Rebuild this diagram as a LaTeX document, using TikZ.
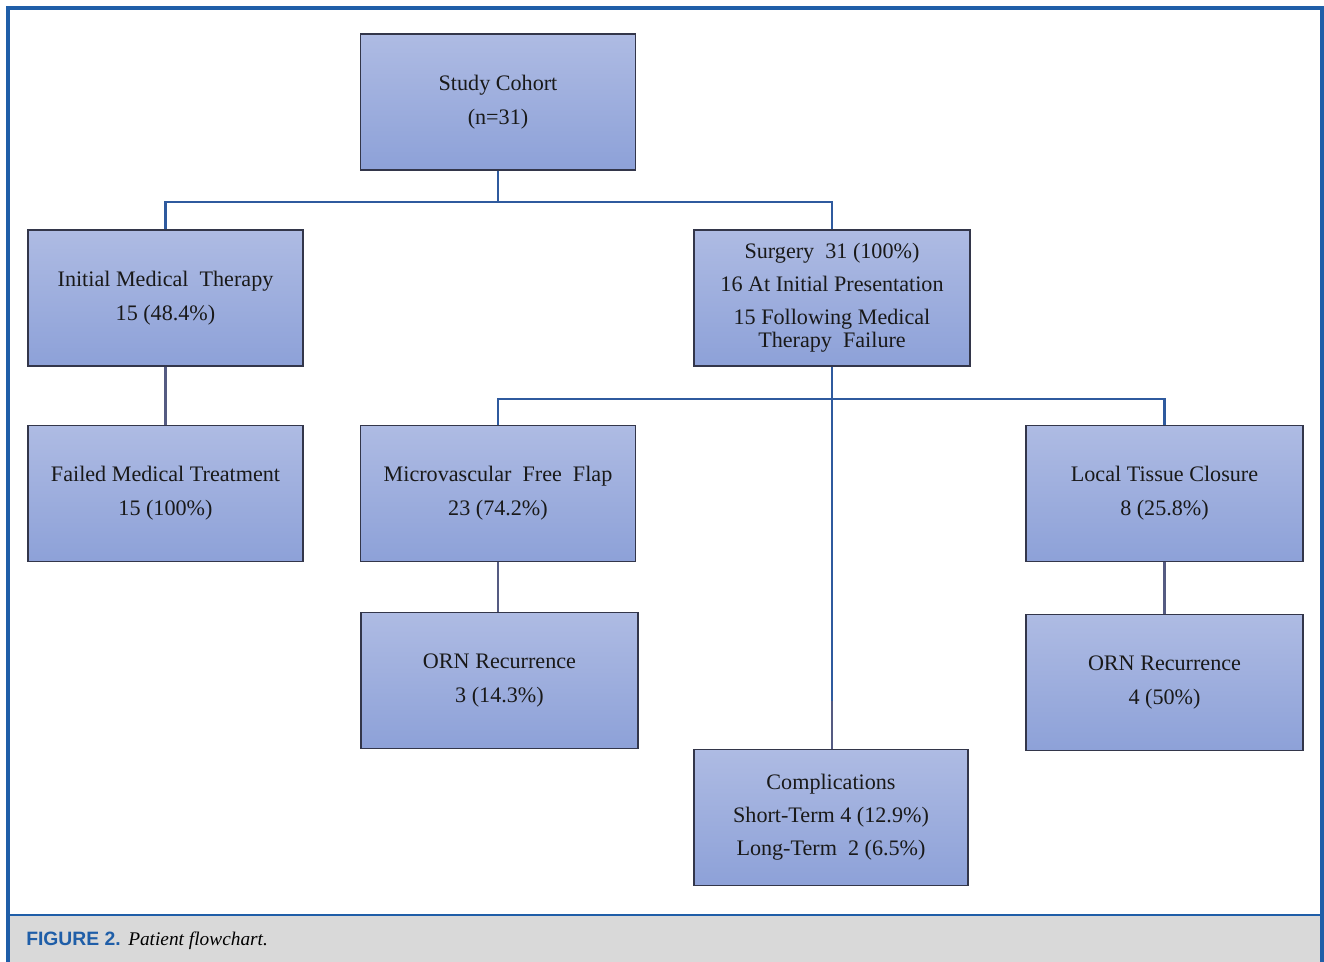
\documentclass[tikz,border=0pt]{standalone}
\usepackage{fontspec}
\setmainfont{Liberation Serif}
\newfontfamily\capsans{Liberation Sans}
\definecolor{frameblue}{HTML}{1F5EA8}
\definecolor{linkblue}{HTML}{2F5A9E}
\definecolor{linkgray}{HTML}{555B82}
\definecolor{boxtop}{HTML}{AEBBE3}
\definecolor{boxbot}{HTML}{8DA1D8}
\definecolor{boxline}{HTML}{33364A}
\definecolor{capgray}{HTML}{D9D9D9}
\begin{document}
\begin{tikzpicture}[x=0.75pt,y=-0.75pt,
  box/.style={draw=boxline, line width=1.1pt, top color=boxtop, bottom color=boxbot,
    minimum width=206pt, minimum height=102pt, inner sep=2pt, align=center,
    text=black!90, font=\fontsize{16.6}{17.25}\selectfont},
  link/.style={draw=linkblue, line width=1.8pt},
  linkg/.style={draw=linkgray, line width=1.8pt}]
\useasboundingbox (0,0) rectangle (1324,962);
\fill[white] (0,0) rectangle (1324,962);
% caption band
\fill[capgray] (8,915) rectangle (1322,962);
\draw[frameblue, line width=1.6pt] (8,915) -- (1322,915);
\draw[frameblue, line width=2.4pt] (8,962) -- (8,8) -- (1322,8) -- (1322,962);
\node[anchor=base west, inner sep=0pt, text=frameblue, font=\capsans\bfseries\fontsize{14.5}{16}\selectfont] (capA) at (26,945) {FIGURE 2.};
\node[anchor=base west, inner sep=0pt, font=\itshape\fontsize{14.5}{16}\selectfont] (capB) at (128,945) {Patient flowchart.};

% boxes
\node[box] (sc) at (498,102) {Study Cohort\\[8.25pt](n=31)};
\node[box] (imt) at (165.5,298) {Initial Medical\ \ Therapy\\[8.25pt]15 (48.4\%)};
\node[box, minimum width=207pt] (surg) at (832,298) {Surgery\ \ 31 (100\%)\\[7.5pt]16 At Initial Presentation\\[7.5pt]15 Following Medical\\Therapy\ \ Failure};
\node[box] (fmt) at (165.5,493.5) {Failed Medical Treatment\\[8.25pt]15 (100\%)};
\node[box] (mff) at (498,493.5) {Microvascular\ \ Free\ \ Flap\\[8.25pt]23 (74.2\%)};
\node[box, minimum width=207.5pt] (ltc) at (1164.5,493.5) {Local Tissue Closure\\[8.25pt]8 (25.8\%)};
\node[box, minimum width=207.5pt] (orn1) at (499.5,680.5) {ORN Recurrence\\[8.25pt]3 (14.3\%)};
\node[box, minimum width=207.5pt] (orn2) at (1164.5,682.5) {ORN Recurrence\\[8.25pt]4 (50\%)};
\node[box, minimum width=205.5pt] (comp) at (831,817.5) {Complications\\[7.5pt]Short-Term 4 (12.9\%)\\[7.5pt]Long-Term\ \ 2 (6.5\%)};

% connectors
\path (sc.south) ++(0,31) coordinate (j1);
\path (surg.south) ++(0,32) coordinate (j2);
\path (surg.south) ++(0,334) coordinate (j3);
\draw[link] (sc.south) -- (j1);
\draw[link] (imt.north) |- (j1) -| (surg.north);
\draw[link] (surg.south) -- (j2);
\draw[link] (mff.north) |- (j2) -| (ltc.north);
\draw[link] (j2) -- (j3);
\draw[linkg] (j3) -- (comp.north -| j3);
\draw[linkg] (imt.south) -- (fmt.north);
\draw[linkg] (mff.south) -- (orn1.north -| mff.south);
\draw[linkg] (ltc.south) -- (orn2.north -| ltc.south);
\end{tikzpicture}
\end{document}
